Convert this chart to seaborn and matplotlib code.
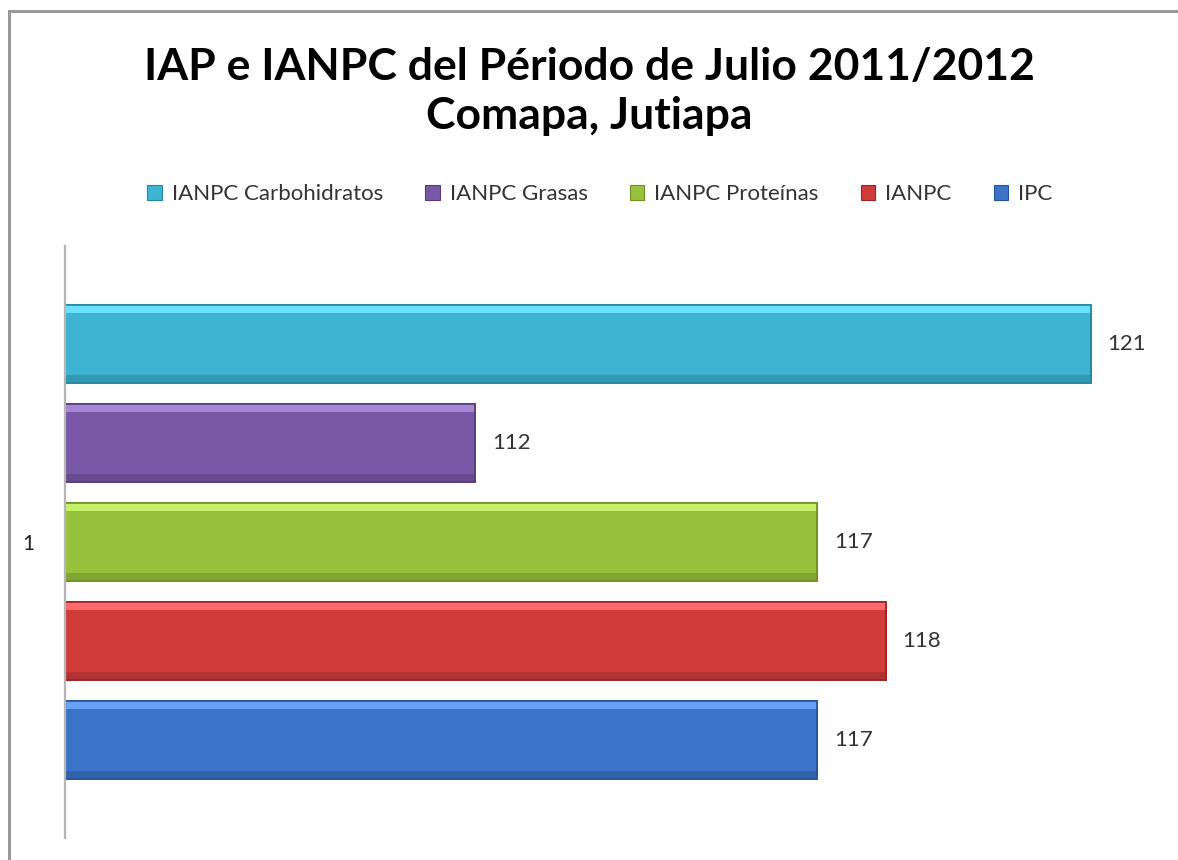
import matplotlib
matplotlib.use("Agg")
import matplotlib.pyplot as plt
from matplotlib.patches import Rectangle
import matplotlib.colors as mcolors
import seaborn as sns
import pandas as pd

series = ["IANPC Carbohidratos", "IANPC Grasas", "IANPC Proteínas", "IANPC", "IPC"]
values = [121, 112, 117, 118, 117]
colors = ["#3cb4d2", "#7a58a8", "#98c23c", "#d13c3b", "#3b73c8"]
edge_colors = ["#23889f", "#563c7c", "#6e8f22", "#9c2323", "#24539a"]
category_label = "1"
title_lines = ["IAP e IANPC del Périodo de Julio 2011/2012", "Comapa, Jutiapa"]

sns.set_theme(style="white")
plt.rcParams["font.family"] = ["Lato", "DejaVu Sans"]

W, H = 1178, 860
fig = plt.figure(figsize=(W / 100, H / 100), dpi=100)
fig.patch.set_facecolor("white")

# outer chart border
fig.add_artist(Rectangle((9 / W, -0.05), 1.2, 1 - 11 / H + 0.05, transform=fig.transFigure,
                         fill=False, edgecolor="#9a9a9a", linewidth=2.2))

ax = fig.add_axes([65 / W, (H - 838) / H, (1159 - 65) / W, (838 - 246) / H])
df = pd.DataFrame({"serie": series, "valor": values})
sns.barplot(data=df, x="valor", y="serie", hue="serie", palette=colors, orient="h",
            width=0.79, legend=False, ax=ax, saturation=1)

bars = list(ax.patches)
for patch, c, ec in zip(bars, colors, edge_colors):
    patch.set_edgecolor(ec)
    patch.set_linewidth(1.2)
    # bevel effect: light band on top, darker band at the bottom
    x0, y0 = patch.get_x(), patch.get_y()
    w, h = patch.get_width(), patch.get_height()
    light = mcolors.to_hex([min(1, v + 0.18) for v in mcolors.to_rgb(c)])
    dark = mcolors.to_hex([v * 0.85 for v in mcolors.to_rgb(c)])
    ax.add_patch(Rectangle((x0, y0), w, h * 0.1, facecolor=light, edgecolor="none", zorder=patch.get_zorder() + 0.1))
    ax.add_patch(Rectangle((x0, y0 + h * 0.9), w, h * 0.1, facecolor=dark, edgecolor="none", zorder=patch.get_zorder() + 0.1))
    ax.add_patch(Rectangle((x0, y0), w, h, facecolor="none", edgecolor=ec, linewidth=1.2, zorder=patch.get_zorder() + 0.2))

ax.set_xlim(106, 122)
ax.set_ylim(4.99, -0.99)
ax.set_yticks([2])
ax.set_yticklabels([category_label], fontsize=15, color="#222222")
ax.tick_params(axis="y", length=0, pad=22)
ax.set_xticks([])
ax.set_xlabel("")
ax.set_ylabel("")
for s in ["top", "right", "bottom"]:
    ax.spines[s].set_visible(False)
ax.spines["left"].set_color("#b5b5b5")
ax.spines["left"].set_linewidth(1.6)

for container in ax.containers:
    ax.bar_label(container, fmt="%d", padding=12, fontsize=16, color="#333333")

fig.text(0.5, 1 - 80 / H, title_lines[0], ha="center", va="baseline",
         fontsize=32, fontweight="bold", color="black")
fig.text(0.5, 1 - 129 / H, title_lines[1], ha="center", va="baseline",
         fontsize=32, fontweight="bold", color="black")

handles = [Rectangle((0, 0), 1, 1, facecolor=c, edgecolor=e, linewidth=0.8)
           for c, e in zip(colors, edge_colors)]
fig.legend(handles, series, loc="center", bbox_to_anchor=(600 / W, 1 - 194 / H), ncol=5,
           frameon=False, fontsize=16, handlelength=0.65, handleheight=0.65,
           handletextpad=0.45, columnspacing=1.9, labelcolor="#333333")

fig.savefig("out.png", dpi=100, facecolor="white")
